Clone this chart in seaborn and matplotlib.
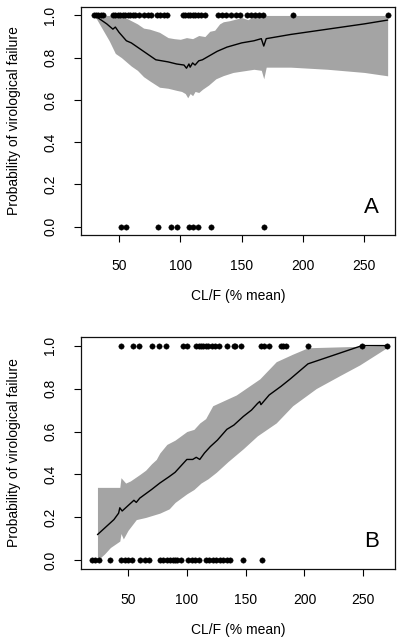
import numpy as np
import pandas as pd
import matplotlib
matplotlib.use("Agg")
import matplotlib.pyplot as plt
import seaborn as sns

# ---------------- Panel A data ----------------
a_fail_x = [30, 31, 33, 35, 37, 45, 47, 49, 51, 53, 55, 57, 59, 61, 63, 66, 70, 74, 76,
            81, 83, 87, 89, 102, 104, 106, 108, 110, 112, 114, 117, 120, 131, 134, 137,
            141, 145, 149, 154, 158, 161, 164, 167, 192, 269]
a_succ_x = [52, 56, 82, 92, 97, 107, 110, 114, 125, 168]

a_mean_x = [30, 40, 45, 47, 50, 56, 60, 70, 80, 90, 97, 103, 105, 107, 108, 110, 112,
            115, 118, 121, 124, 130, 138, 150, 160, 166, 168, 170, 190, 220, 250, 269]
a_mean_y = [1.0, 0.96, 0.935, 0.945, 0.92, 0.88, 0.87, 0.83, 0.79, 0.78, 0.77, 0.765,
            0.75, 0.77, 0.755, 0.775, 0.765, 0.785, 0.79, 0.80, 0.81, 0.83, 0.85, 0.87,
            0.88, 0.89, 0.855, 0.89, 0.91, 0.935, 0.96, 0.978]

a_up_x = [30, 45, 55, 60, 65, 70, 75, 83, 90, 95, 100, 105, 110, 115, 120, 124, 128,
          132, 135, 140, 150, 155, 160, 165, 269]
a_up_y = [1.0, 1.0, 0.99, 0.975, 0.96, 0.94, 0.935, 0.92, 0.895, 0.89, 0.887, 0.895,
          0.89, 0.905, 0.90, 0.925, 0.93, 0.96, 0.97, 0.975, 0.99, 0.98, 0.995, 1.0, 1.0]
a_lo_x = [30, 35, 42, 47, 52, 56, 60, 65, 70, 75, 83, 90, 97, 101, 104, 106, 108, 110,
          112, 115, 118, 123, 129, 135, 143, 160, 166, 168, 170, 190, 220, 250, 269]
a_lo_y = [1.0, 0.95, 0.88, 0.82, 0.80, 0.78, 0.76, 0.74, 0.71, 0.69, 0.66, 0.655,
          0.645, 0.64, 0.63, 0.61, 0.63, 0.62, 0.64, 0.635, 0.65, 0.67, 0.70, 0.715,
          0.73, 0.745, 0.74, 0.70, 0.755, 0.755, 0.745, 0.73, 0.714]

# ---------------- Panel B data ----------------
b_fail_x = [44, 54, 59, 70, 76, 82, 97, 100, 108, 110, 112, 114, 116, 118, 121, 124,
            127, 134, 140, 141, 146, 163, 166, 170, 180, 182, 184, 203, 249, 270]
b_succ_x = [19, 22, 25, 35, 44, 47, 50, 53, 60, 64, 68, 77, 80, 83, 86, 88, 90, 92, 95,
            101, 104, 107, 110, 116, 119, 122, 125, 128, 131, 134, 137, 148, 164]

b_mean_x = [24, 30, 38, 42, 43, 45, 50, 55, 57, 60, 70, 77, 85, 90, 95, 100, 105, 108,
            111, 115, 120, 126, 134, 140, 148, 155, 160, 162, 163, 170, 180, 188, 203,
            249, 270]
b_mean_y = [0.12, 0.15, 0.19, 0.22, 0.245, 0.23, 0.255, 0.28, 0.27, 0.29, 0.33, 0.36,
            0.39, 0.41, 0.44, 0.47, 0.47, 0.48, 0.47, 0.50, 0.53, 0.56, 0.61, 0.63, 0.67,
            0.70, 0.73, 0.74, 0.725, 0.77, 0.81, 0.845, 0.915, 1.0, 1.0]

b_up_x = [24, 43, 44, 48, 52, 60, 65, 70, 74, 77, 83, 90, 95, 100, 106, 111, 116, 122,
          130, 142, 150, 162, 176, 190, 203, 270]
b_up_y = [0.34, 0.34, 0.385, 0.36, 0.37, 0.40, 0.42, 0.45, 0.47, 0.50, 0.54, 0.56,
          0.58, 0.60, 0.61, 0.64, 0.66, 0.72, 0.74, 0.77, 0.80, 0.845, 0.925, 0.96,
          0.99, 1.0]
b_lo_x = [24, 30, 35, 43, 44, 46, 50, 57, 65, 77, 85, 90, 100, 106, 112, 118, 125,
          135, 148, 160, 176, 190, 210, 230, 247, 270]
b_lo_y = [0.0, 0.03, 0.06, 0.09, 0.125, 0.10, 0.14, 0.19, 0.20, 0.22, 0.24, 0.27,
          0.31, 0.33, 0.36, 0.38, 0.41, 0.46, 0.52, 0.58, 0.64, 0.72, 0.80, 0.86,
          0.91, 0.99]

x_ticks = [50, 100, 150, 200, 250]
y_ticks = [0.0, 0.2, 0.4, 0.6, 0.8, 1.0]
y_labels = ["0.0", "0.2", "0.4", "0.6", "0.8", "1.0"]
panel_labels = ["A", "B"]
x_title = "CL/F (% mean)"
y_title = "Probability of virological failure"

sns.set_style("ticks")
plt.rcParams["font.family"] = ["Liberation Sans", "DejaVu Sans"]
plt.rcParams["text.color"] = "black"
plt.rcParams["axes.labelcolor"] = "black"
plt.rcParams["xtick.color"] = "black"
plt.rcParams["ytick.color"] = "black"

fig = plt.figure(figsize=(4.07, 6.43), dpi=100)
W, H = 407, 643


def add_axes(left, top, right, bottom):
    return fig.add_axes([left / W, 1 - bottom / H, (right - left) / W, (bottom - top) / H])


axA = add_axes(81, 7, 395, 235)
axB = add_axes(81, 337, 395, 569)

band_col = "#a4a4a4"


def draw(ax, fail_x, succ_x, mx, my, ux, uy, lx, ly, xlim, label):
    grid = np.unique(np.concatenate([ux, lx]))
    up = np.interp(grid, ux, uy)
    lo = np.interp(grid, lx, ly)
    ax.fill_between(grid, lo, up, color=band_col, linewidth=0, zorder=1)
    sns.lineplot(x=mx, y=my, ax=ax, color="black", linewidth=1.0, zorder=3,
                 estimator=None, sort=False)
    pts = pd.DataFrame({"x": list(fail_x) + list(succ_x),
                        "y": [1.0] * len(fail_x) + [0.0] * len(succ_x)})
    sns.scatterplot(data=pts, x="x", y="y", ax=ax, color="black", s=15,
                    edgecolor="black", linewidth=0.3, zorder=4)
    ax.set_xlim(*xlim)
    ax.set_ylim(-0.04, 1.04)
    ax.set_xticks(x_ticks)
    ax.set_xticklabels([str(t) for t in x_ticks])
    ax.set_yticks(y_ticks)
    ax.set_yticklabels(y_labels, rotation=90, va="center")
    ax.tick_params(axis="both", direction="out", length=5, width=0.8,
                   labelsize=10, color="black", labelcolor="black", pad=12)
    for s in ax.spines.values():
        s.set_visible(True)
        s.set_linewidth(0.9)
        s.set_color("#111111")
    ax.set_xlabel(x_title, fontsize=10, labelpad=12, color="black")
    ax.set_ylabel(y_title, fontsize=10, color="black")
    ax.yaxis.set_label_coords(-0.19, 0.5)
    ax.text(0.925, 0.12, label, transform=ax.transAxes, fontsize=16,
            ha="center", va="center", color="black")


draw(axA, a_fail_x, a_succ_x, a_mean_x, a_mean_y, a_up_x, a_up_y, a_lo_x, a_lo_y,
     (19, 275), panel_labels[0])
draw(axB, b_fail_x, b_succ_x, b_mean_x, b_mean_y, b_up_x, b_up_y, b_lo_x, b_lo_y,
     (10, 277), panel_labels[1])

fig.savefig("out.png", dpi=100)
